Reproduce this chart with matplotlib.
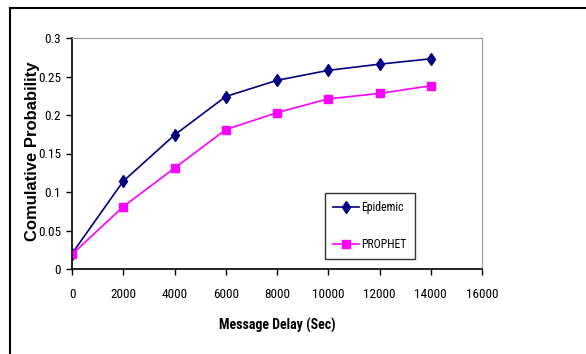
import matplotlib
matplotlib.use("Agg")
import matplotlib.pyplot as plt
from matplotlib.lines import Line2D
from matplotlib import font_manager

# values
delay = [0, 2000, 4000, 6000, 8000, 10000, 12000, 14000]
epidemic = [0.02, 0.114, 0.174, 0.224, 0.245, 0.258, 0.266, 0.273]
prophet = [0.019, 0.081, 0.131, 0.181, 0.203, 0.221, 0.228, 0.238]
x_ticks = [0, 2000, 4000, 6000, 8000, 10000, 12000, 14000, 16000]
y_ticks = [0, 0.05, 0.1, 0.15, 0.2, 0.25, 0.3]
y_tick_labels = ["0", "0.05", "0.1", "0.15", "0.2", "0.25", "0.3"]

# a condensed face if one is installed
names = {f.name for f in font_manager.fontManager.ttflist}
narrow = [n for n in ["Liberation Sans Narrow", "DejaVu Sans Condensed",
                      "Roboto Condensed", "Open Sans Condensed"] if n in names]
narrow = narrow + ["Liberation Sans", "DejaVu Sans"]
wide = ["Liberation Sans", "DejaVu Sans"]

W, H = 586, 354
fig = plt.figure(figsize=(W / 100, H / 100), dpi=100)
ax = fig.add_axes([72 / W, 1 - 269 / H, (482 - 72) / W, (269 - 38) / H])

ax.plot(delay, epidemic, color="#000080", marker="d", markersize=6.5, lw=1.2,
        label="Epidemic")
ax.plot(delay, prophet, color="#ff00ff", marker="s", markersize=5.5, lw=1.2,
        label="PROPHET")

ax.set_xlim(0, 16000)
ax.set_ylim(0, 0.3)
ax.set_xticks(x_ticks)
ax.set_xticklabels([str(v) for v in x_ticks], family=narrow, fontsize=9.5)
ax.set_yticks(y_ticks)
ax.set_yticklabels(y_tick_labels, family=narrow, fontsize=9.5)
ax.tick_params(direction="out", length=4, width=1, color="black", pad=10)
ax.tick_params(axis="y", pad=4)

for side in ["top", "right"]:
    ax.spines[side].set_color("#999999")
for side in ["left", "bottom"]:
    ax.spines[side].set_color("black")
    ax.spines[side].set_linewidth(1.2)

ax.set_xlabel("Message Delay (Sec)", family=narrow, fontweight="bold",
              fontsize=10, labelpad=12)
ax.set_ylabel("Comulative Probability", family=wide, fontweight="bold",
              fontsize=12)
ax.yaxis.set_label_coords((40 - 72) / 410, 0.51)

leg = ax.legend(loc="upper left", bbox_to_anchor=((325 - 72) / 410, (269 - 193) / 231),
                prop={"family": narrow, "size": 8.5}, frameon=True, fancybox=False,
                handlelength=2.2, labelspacing=2.0, borderpad=0.7,
                handletextpad=0.2, borderaxespad=0)
leg.get_frame().set_edgecolor("black")
leg.get_frame().set_linewidth(1)

# outer chart border (left and top only visible)
fig.add_artist(Line2D([10 / W, 10 / W], [0, 1 - 8 / H], color="black", lw=1.5))
fig.add_artist(Line2D([10 / W, 1], [1 - 8 / H, 1 - 8 / H], color="black", lw=1.5))

fig.savefig("out.png", dpi=100)
